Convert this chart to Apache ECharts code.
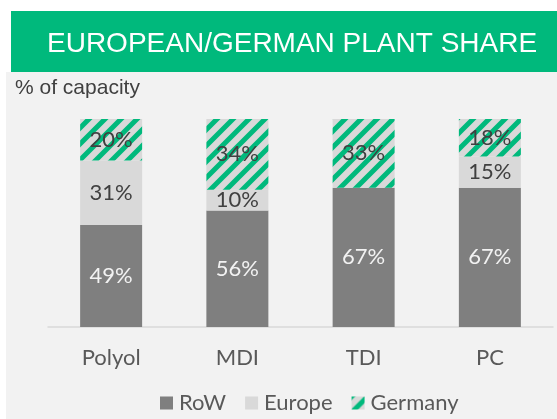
<!DOCTYPE html>
<html>
<head>
<meta charset="utf-8">
<script src="https://cdn.jsdelivr.net/npm/echarts@6/dist/echarts.min.js"></script>
<style>
  html, body { margin: 0; padding: 0; background: #ffffff; }
  #chart { width: 557px; height: 419px; }
</style>
</head>
<body>
<div id="chart"></div>
<script>
const categories = ['Polyol', 'MDI', 'TDI', 'PC'];
const rowValues = [49, 56, 67, 67];
const europeValues = [31, 10, 0, 15];
const germanyValues = [20, 34, 33, 18];

// stripe pattern for Germany (green diagonal on light grey)
function makeStripes() {
  const s = 16;
  const c = document.createElement('canvas');
  c.width = s;
  c.height = s;
  const ctx = c.getContext('2d');
  ctx.fillStyle = '#d9d9d9';
  ctx.fillRect(0, 0, s, s);
  ctx.strokeStyle = '#00b97c';
  ctx.lineWidth = 5;
  ctx.beginPath();
  ctx.moveTo(-s, s); ctx.lineTo(s, -s);
  ctx.moveTo(0, s); ctx.lineTo(s, 0);
  ctx.moveTo(0, 2 * s); ctx.lineTo(2 * s, 0);
  ctx.stroke();
  return c;
}

const chart = echarts.init(document.getElementById('chart'));
const labelFont = { fontFamily: 'Lato', fontSize: 22 };
const hideZero = p => (p.value ? p.value + '%' : '');

chart.setOption({
  animation: false,
  backgroundColor: '#ffffff',
  graphic: [
    { type: 'rect', left: 6, top: 72, shape: { width: 551, height: 347 }, style: { fill: '#f2f2f2' }, z: -10 },
    { type: 'rect', left: 11, top: 11, shape: { width: 546, height: 61 }, style: { fill: '#00b97c' } },
    {
      type: 'text', left: 47, top: 30,
      style: { text: 'EUROPEAN/GERMAN PLANT SHARE', fill: '#ffffff', font: '28px "Liberation Sans", Arial' },
    },
    {
      type: 'text', left: 15, top: 78,
      style: { text: '% of capacity', fill: '#404040', font: '21px "Liberation Sans", Arial' },
    },
  ],
  grid: { left: 48, right: 4, top: 119, bottom: 92 },
  legend: {
    left: 160,
    top: 392,
    padding: 0,
    itemWidth: 13,
    itemHeight: 13,
    itemGap: 19,
    icon: 'rect',
    textStyle: { color: '#595959', fontFamily: 'Lato', fontSize: 22, padding: [0, 0, 0, 1] },
    data: ['RoW', 'Europe', 'Germany'],
  },
  xAxis: {
    type: 'category',
    data: categories,
    axisTick: { show: false },
    axisLine: { lineStyle: { color: '#d9d9d9', width: 1.5 } },
    axisLabel: { color: '#595959', fontFamily: 'Lato', fontSize: 22, margin: 20 },
  },
  yAxis: {
    type: 'value',
    min: 0,
    max: 100,
    show: false,
  },
  series: [
    {
      name: 'RoW',
      type: 'bar',
      stack: 'total',
      barWidth: 62,
      data: rowValues,
      itemStyle: { color: '#7f7f7f' },
      label: { show: true, position: 'inside', color: '#f2f2f2', formatter: hideZero, ...labelFont },
    },
    {
      name: 'Europe',
      type: 'bar',
      stack: 'total',
      data: europeValues,
      itemStyle: { color: '#d9d9d9' },
      label: { show: true, position: 'inside', color: '#404040', formatter: hideZero, ...labelFont },
    },
    {
      name: 'Germany',
      type: 'bar',
      stack: 'total',
      data: germanyValues,
      itemStyle: { color: { image: makeStripes(), repeat: 'repeat' } },
      label: { show: true, position: 'inside', color: '#404040', formatter: hideZero, ...labelFont },
    },
  ],
});
</script>
</body>
</html>
